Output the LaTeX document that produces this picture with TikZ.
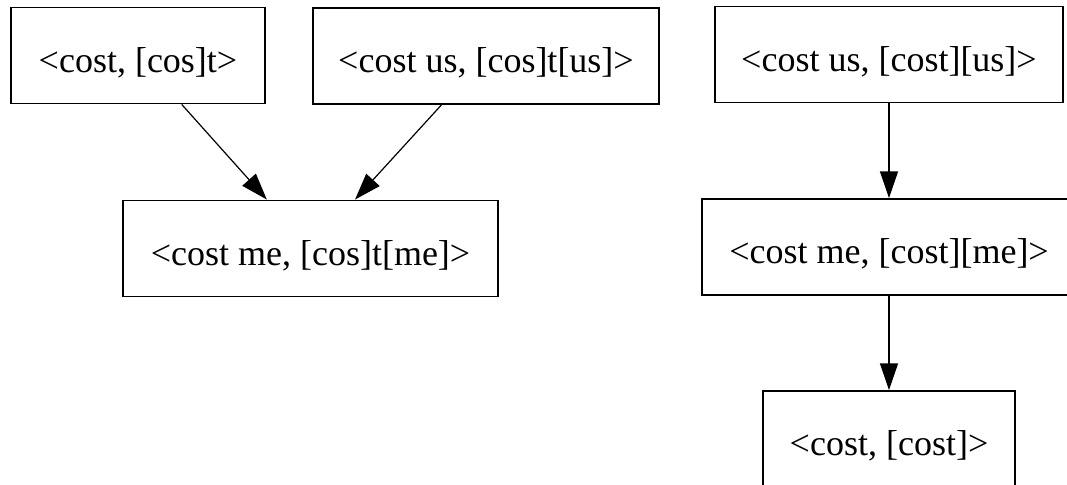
\documentclass[tikz,border=0pt]{standalone}
\usepackage{fontspec}
\setmainfont{Liberation Serif}
\usetikzlibrary{arrows.meta}
\begin{document}
\begin{tikzpicture}[x=0.75pt,y=-0.75pt,
  pairbox/.style={draw=black,line width=1.4pt,rectangle,inner sep=0pt,
    minimum height=72pt,text height=25pt,text depth=0pt,
    font=\fontsize{27}{32}\selectfont,text=black},
  link/.style={line width=0.9pt,-{Triangle[length=20pt,width=13.5pt]}}]
  \clip (0,0) rectangle (1067,485);
  \fill[white] (0,0) rectangle (1067,485);
  % left derivation
  \node[pairbox,minimum width=190.5pt] (a) at (138,55.5) {<cost, [cos]t>};
  \node[pairbox,minimum width=259.5pt] (b) at (486,56) {<cost us, [cos]t[us]>};
  \node[pairbox,minimum width=281.25pt] (c) at (310.5,248.5) {<cost me, [cos]t[me]>};
  % right derivation
  \node[pairbox,minimum width=261pt] (d) at (889,54.5) {<cost us, [cost][us]>};
  \node[pairbox,minimum width=280.5pt] (e) at (889,247) {<cost me, [cost][me]>};
  \node[pairbox,minimum width=189pt] (f) at (889,439) {<cost, [cost]>};
  \draw[link] (a) -- (c);
  \draw[link] (b) -- (c);
  \draw[link] (d) -- (e);
  \draw[link] (e) -- (f);
\end{tikzpicture}
\end{document}
